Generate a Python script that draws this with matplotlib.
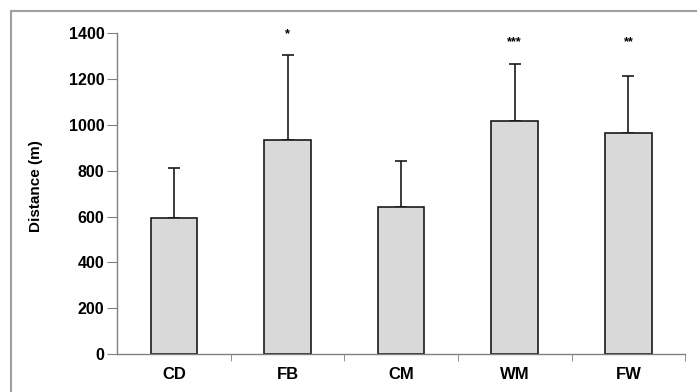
import numpy as np
import matplotlib
matplotlib.use("Agg")
import matplotlib.pyplot as plt
from matplotlib.patches import Rectangle

# values
groups = ['CD', 'FB', 'CM', 'WM', 'FW']
meanDistance = [593, 932, 640, 1017, 965]
sdDistance = [217, 374, 201, 250, 248]
stars = ['', '*', '', '***', '**']
starLevel = [0, 1382, 0, 1345, 1345]

plt.rcParams['font.family'] = ['Liberation Sans', 'DejaVu Sans']

fig = plt.figure(figsize=(6.97, 3.92), dpi=100)

# gray frame around the chart, running off the right and bottom edges
fig.patches.append(Rectangle((11/697., -0.1), 1.2, 1 - 11/392. + 0.1,
                             transform=fig.transFigure, fill=False,
                             edgecolor='#a0a0a0', lw=1.5))

ax = fig.add_axes([0.168, 0.0962, 0.815, 0.8196])

x = np.arange(len(groups))
ax.bar(x, meanDistance, width=0.41, color='#d9d9d9', edgecolor='#1a1a1a',
       linewidth=1.2, zorder=2)
ax.errorbar(x, meanDistance, yerr=[np.zeros(len(x)), sdDistance], fmt='none',
            ecolor='#1a1a1a', elinewidth=1.2, capsize=4.5, capthick=1.2, zorder=1)

# significance stars sit at a fixed height above the bars
for xi, lvl, st in zip(x, starLevel, stars):
    if st:
        ax.text(xi, lvl, st, ha='center', va='baseline', fontsize=9,
                fontweight='bold')

ax.set_xlim(-0.5, len(groups) - 0.5)
ax.set_ylim(0, 1400)
ax.set_yticks(np.arange(0, 1401, 200))
ax.set_xticks(x)
ax.set_xticklabels(groups, fontsize=12, fontweight='bold')
ax.set_xticks(np.arange(0.5, len(groups), 1.0), minor=True)
ax.tick_params(axis='x', which='major', length=0, pad=9)
ax.tick_params(axis='x', which='minor', length=5, direction='out', color='#808080')
ax.tick_params(axis='y', length=7, pad=2, direction='out', color='#808080',
               labelsize=11.5)
for lbl in ax.get_yticklabels():
    lbl.set_fontweight('bold')

ax.set_ylabel('Distance (m)', fontsize=11, fontweight='bold')
ax.yaxis.set_label_coords(-0.13, 0.524)

for side in ['top', 'right']:
    ax.spines[side].set_visible(False)
for side in ['left', 'bottom']:
    ax.spines[side].set_color('#808080')
    ax.spines[side].set_linewidth(1.0)

fig.savefig('out.png', dpi=100)
